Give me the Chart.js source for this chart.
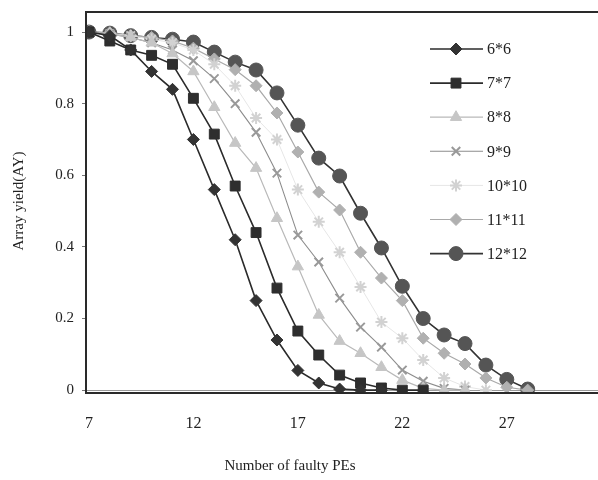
<!DOCTYPE html>
<html>
<head>
<meta charset="utf-8">
<script src="https://cdn.jsdelivr.net/npm/chart.js@4/dist/chart.umd.min.js"></script>
<style>
  html, body { margin: 0; padding: 0; background: #fff; overflow: hidden; }
  #wrap { width: 640px; height: 480px; }
</style>
</head>
<body>
<div id="wrap"><canvas id="yieldChart" width="640" height="480"></canvas></div>
<script>
// number of faulty PEs (x values)
const faults = [7, 8, 9, 10, 11, 12, 13, 14, 15, 16, 17, 18, 19, 20, 21, 22, 23, 24, 25, 26, 27, 28];

// array yield per array size
const ay6 = [1, 0.99, 0.95, 0.89, 0.84, 0.70, 0.56, 0.42, 0.25, 0.14, 0.055, 0.02, 0.003, 0, 0];
const ay7 = [1, 0.975, 0.95, 0.935, 0.91, 0.815, 0.715, 0.57, 0.44, 0.285, 0.165, 0.098, 0.042, 0.02, 0.006, 0, 0];
const ay8 = [1, 0.995, 0.985, 0.97, 0.94, 0.89, 0.79, 0.69, 0.62, 0.48, 0.345, 0.21, 0.137, 0.103, 0.064, 0.028, 0.005, 0, 0];
const ay9 = [1, 0.995, 0.985, 0.97, 0.95, 0.92, 0.87, 0.80, 0.72, 0.606, 0.433, 0.358, 0.257, 0.176, 0.12, 0.056, 0.025, 0.005, 0];
const ay10 = [1, 0.995, 0.99, 0.98, 0.97, 0.95, 0.91, 0.85, 0.76, 0.70, 0.56, 0.47, 0.385, 0.288, 0.19, 0.145, 0.084, 0.034, 0.01, 0];
const ay11 = [1, 0.998, 0.99, 0.985, 0.975, 0.955, 0.925, 0.895, 0.85, 0.774, 0.665, 0.553, 0.503, 0.385, 0.313, 0.25, 0.145, 0.103, 0.073, 0.034, 0.008, 0];
const ay12 = [1, 0.997, 0.99, 0.985, 0.98, 0.972, 0.944, 0.916, 0.894, 0.83, 0.74, 0.648, 0.598, 0.494, 0.397, 0.29, 0.2, 0.154, 0.13, 0.07, 0.03, 0.003];

const seriesNames = ["6*6", "7*7", "8*8", "9*9", "10*10", "11*11", "12*12"];

// tick labels
const xTicks = [7, 12, 17, 22, 27, 32];
const yTicks = [0, 0.2, 0.4, 0.6, 0.8, 1];

const serif = "'Liberation Serif', 'DejaVu Serif', serif";

// turn value list into {x,y} points
function pts(vals) {
  return vals.map((v, i) => ({ x: faults[i], y: v }));
}

// look of each series
const styles = [
  { line: "#2b2b2b", fill: "#333", style: "rectRot", r: 6, w: 1.6, bw: 1 },
  { line: "#2b2b2b", fill: "#2e2e2e", style: "rect", r: 7, w: 1.6, bw: 1 },
  { line: "#b9b9b9", fill: "#c6c6c6", style: "triangle", r: 6.5, w: 1.2, bw: 1 },
  { line: "#8c8c8c", fill: "#999", style: "crossRot", r: 6, w: 1.1, bw: 2 },
  { line: "#e6e6e6", fill: "#d2d2d2", style: "star", r: 6, w: 1, bw: 2 },
  { line: "#a9a9a9", fill: "#b0b0b0", style: "rectRot", r: 6, w: 1.2, bw: 1 },
  { line: "#333", fill: "#555", style: "circle", r: 7, w: 1.6, bw: 1 }
];

const allVals = [ay6, ay7, ay8, ay9, ay10, ay11, ay12];

const datasets = allVals.map((vals, i) => {
  const s = styles[i];
  return {
    label: seriesNames[i],
    data: pts(vals),
    borderColor: s.line,
    borderWidth: s.w,
    pointStyle: s.style,
    pointRadius: s.r,
    pointBackgroundColor: s.fill,
    pointBorderColor: s.fill,
    pointBorderWidth: s.bw,
    tension: 0,
    fill: false
  };
});

// frame, axis titles and legend drawn on top
const decor = {
  id: "decor",
  afterDraw(chart) {
    const ctx = chart.ctx;
    const a = chart.chartArea;
    ctx.save();

    // plot frame
    ctx.strokeStyle = "#2a2a2a";
    ctx.lineWidth = 2;
    ctx.strokeRect(a.left, a.top, a.right - a.left + 20, a.bottom - a.top);

    // axis titles
    ctx.fillStyle = "#222";
    ctx.font = "15px " + serif;
    ctx.textAlign = "center";
    ctx.textBaseline = "middle";
    ctx.fillText("Number of faulty PEs", 290, 466);
    ctx.translate(19, 201);
    ctx.rotate(-Math.PI / 2);
    ctx.fillText("Array yield(AY)", 0, 0);
    ctx.restore();

    // legend with line + marker
    ctx.save();
    chart.data.datasets.forEach((ds, i) => {
      const y = 49 + i * 34.1;
      ctx.strokeStyle = ds.borderColor;
      ctx.lineWidth = ds.borderWidth;
      ctx.beginPath();
      ctx.moveTo(430, y);
      ctx.lineTo(483, y);
      ctx.stroke();
      ctx.fillStyle = ds.pointBackgroundColor;
      ctx.strokeStyle = ds.pointBorderColor;
      ctx.lineWidth = ds.pointBorderWidth;
      Chart.helpers.drawPoint(ctx, {
        pointStyle: ds.pointStyle,
        radius: ds.pointRadius,
        rotation: 0,
        borderWidth: ds.pointBorderWidth
      }, 456, y);
      ctx.fillStyle = "#222";
      ctx.font = "16px " + serif;
      ctx.textAlign = "left";
      ctx.textBaseline = "middle";
      ctx.fillText(ds.label, 487, y + 1);
    });
    ctx.restore();
  }
};

new Chart(document.getElementById("yieldChart"), {
  type: "line",
  data: { datasets: datasets },
  options: {
    responsive: false,
    animation: false,
    events: [],
    layout: { padding: { left: 0, top: 12, right: 13, bottom: 0 } },
    plugins: { legend: { display: false }, tooltip: { enabled: false } },
    scales: {
      x: {
        type: "linear",
        min: 6.86,
        max: 31.5,
        afterBuildTicks: s => { s.ticks = xTicks.map(v => ({ value: v })); },
        afterFit: s => { s.height = 87; },
        grid: { display: false, drawTicks: false },
        border: { display: false },
        ticks: {
          color: "#222",
          padding: 21,
          maxRotation: 0,
          autoSkip: false,
          font: { family: serif, size: 16 },
          callback: v => String(v)
        }
      },
      y: {
        min: -0.008,
        max: 1.056,
        afterBuildTicks: s => { s.ticks = yTicks.map(v => ({ value: v })); },
        afterFit: s => { s.width = 86; s.paddingTop = 0; s.paddingBottom = 0; },
        grid: {
          drawOnChartArea: true,
          color: c => (c.tick && c.tick.value === 0 ? "#9a9a9a" : "rgba(0,0,0,0)"),
          tickColor: "#777",
          tickLength: 4,
          lineWidth: 1
        },
        border: { display: false },
        ticks: {
          color: "#222",
          padding: 8,
          font: { family: serif, size: 15 },
          callback: v => String(v)
        }
      }
    }
  },
  plugins: [decor]
});
</script>
</body>
</html>
